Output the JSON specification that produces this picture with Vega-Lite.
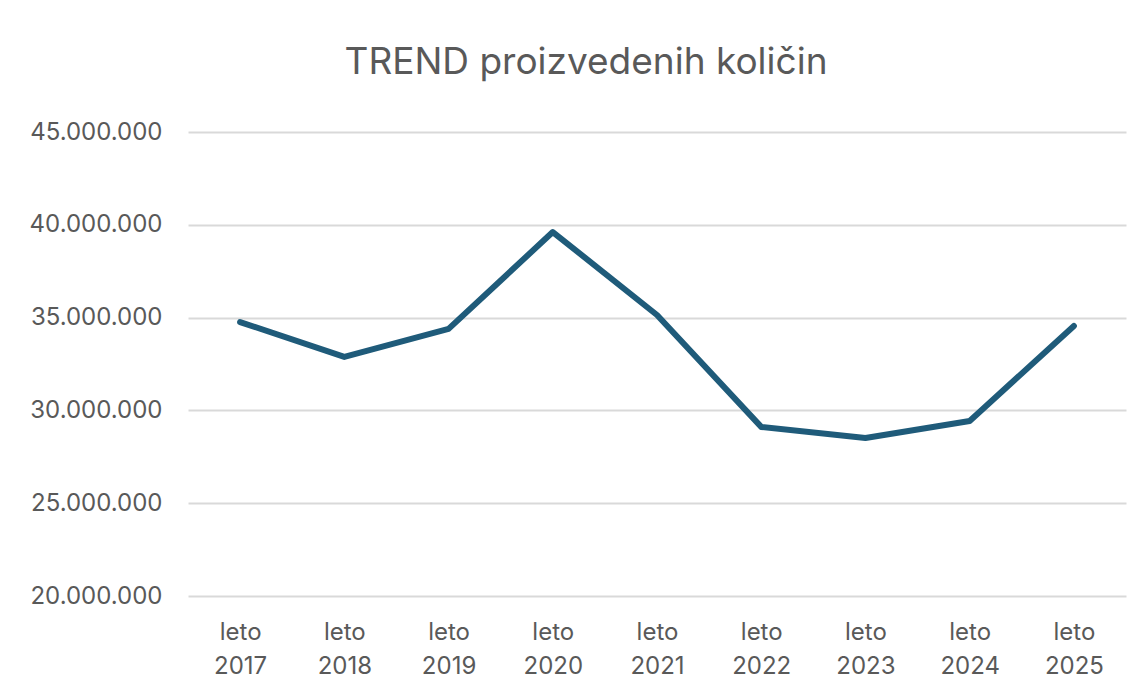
{
  "$schema": "https://vega.github.io/schema/vega-lite/v6.json",
  "autosize": "none",
  "width": 938,
  "height": 464,
  "padding": {"left": 188, "top": 132, "right": 20, "bottom": 104},
  "background": "white",
  "title": {
    "text": "TREND proizvedenih količin",
    "font": "Inter",
    "fontSize": 37,
    "fontWeight": "normal",
    "color": "#595959",
    "anchor": "middle",
    "dx": -71,
    "offset": 38
  },
  "data": {
    "values": [
      {"leto": "leto 2017", "kolicina": 34760000},
      {"leto": "leto 2018", "kolicina": 32880000},
      {"leto": "leto 2019", "kolicina": 34390000},
      {"leto": "leto 2020", "kolicina": 39610000},
      {"leto": "leto 2021", "kolicina": 35140000},
      {"leto": "leto 2022", "kolicina": 29110000},
      {"leto": "leto 2023", "kolicina": 28510000},
      {"leto": "leto 2024", "kolicina": 29430000},
      {"leto": "leto 2025", "kolicina": 34550000}
    ]
  },
  "mark": {"type": "line", "color": "#1F5B7A", "strokeWidth": 6, "strokeCap": "round", "strokeJoin": "round"},
  "encoding": {
    "x": {
      "field": "leto",
      "type": "ordinal",
      "title": null,
      "scale": {"paddingInner": 0, "paddingOuter": 0.5},
      "axis": {
        "labelAngle": 0,
        "labelExpr": "split(datum.value, ' ')",
        "labelFont": "Inter",
        "labelFontSize": 24,
        "labelColor": "#595959",
        "labelLineHeight": 34,
        "labelPadding": 24,
        "ticks": false,
        "domain": false,
        "grid": false
      }
    },
    "y": {
      "field": "kolicina",
      "type": "quantitative",
      "title": null,
      "scale": {"domain": [20000000, 45000000], "nice": false, "zero": false},
      "axis": {
        "values": [20000000, 25000000, 30000000, 35000000, 40000000, 45000000],
        "labelExpr": "replace(format(datum.value, ',d'), /,/g, '.')",
        "labelFont": "Inter",
        "labelFontSize": 24,
        "labelColor": "#595959",
        "labelPadding": 26,
        "ticks": false,
        "domain": false,
        "grid": true,
        "gridColor": "#D9D9D9",
        "gridWidth": 2
      }
    }
  },
  "config": {"view": {"stroke": null}}
}
